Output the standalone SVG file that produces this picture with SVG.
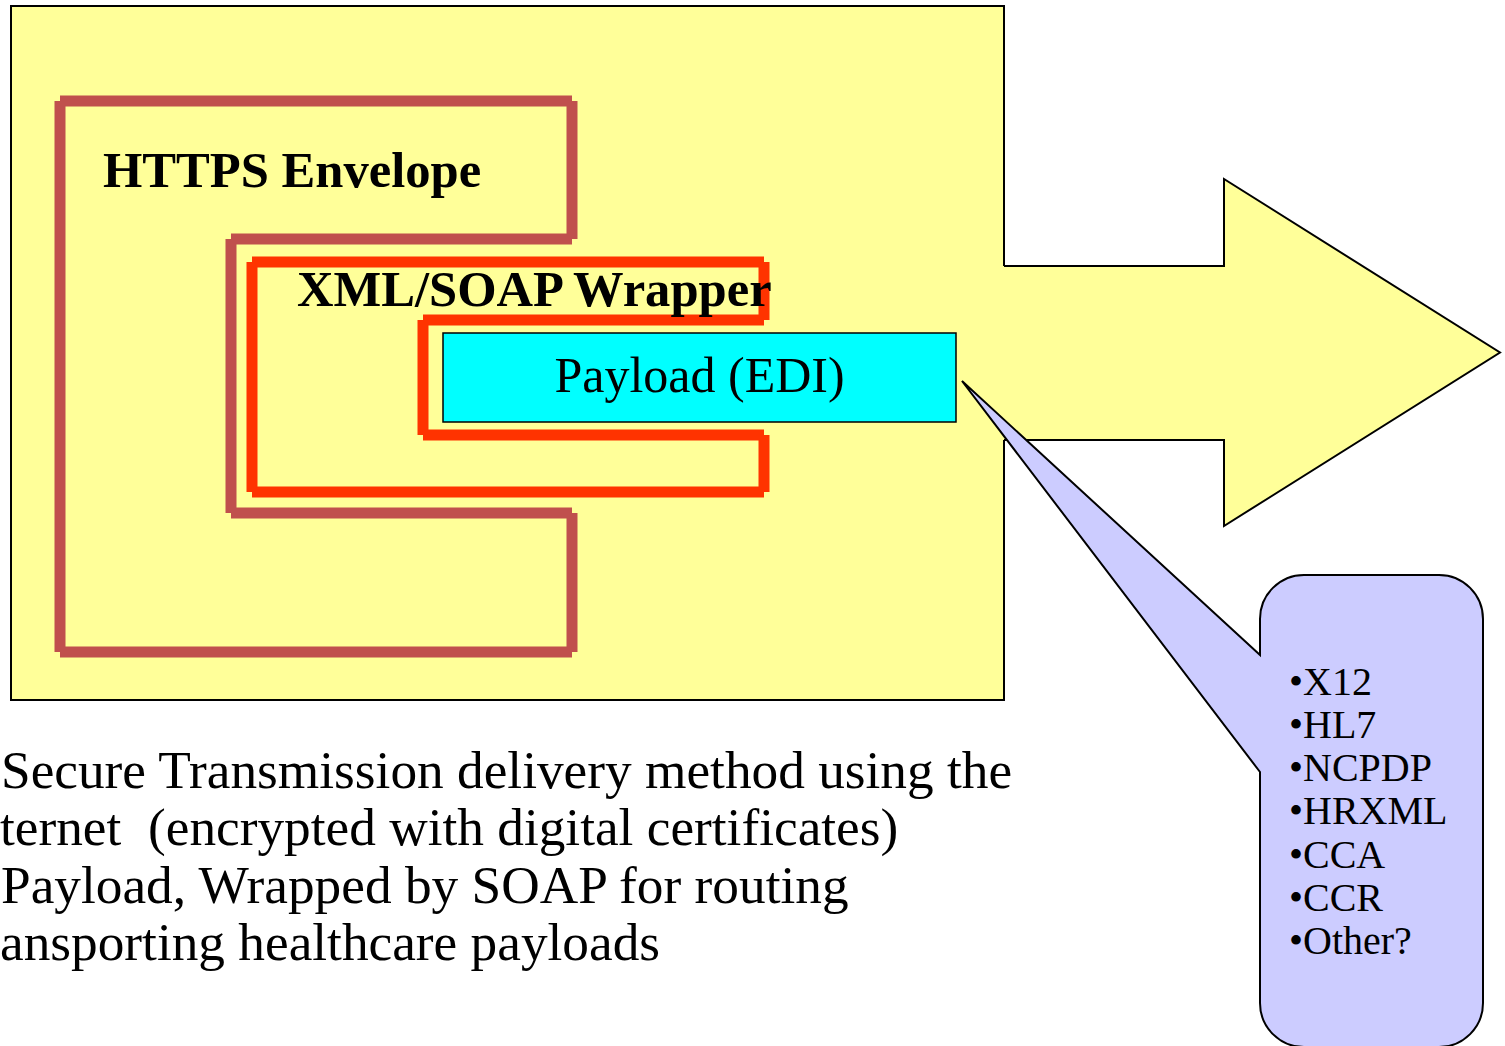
<svg xmlns="http://www.w3.org/2000/svg" width="1505" height="1046" viewBox="0 0 1505 1046">
<style>
.serif{font-family:"Liberation Serif","Times New Roman",serif;fill:#000}
.bold{font-weight:bold;font-size:50.6px}
.body{font-size:53.3px}
.bul{font-size:40px}
.env{fill:none;stroke:#C0504D;stroke-width:11;stroke-linecap:butt}
.wrap{fill:none;stroke:#FF3300;stroke-width:11;stroke-linecap:butt}
</style>
<rect width="1505" height="1046" fill="#FFFFFF"/>
<g id="container">
<rect x="11" y="6" width="993" height="694" fill="#FFFF99" stroke="#000" stroke-width="2"/>
</g>
<g id="arrow">
<polygon points="1000,266 1224,266 1224,179 1500,352.5 1224,526 1224,440 1000,440" fill="#FFFF99"/>
<polyline points="1004,266 1224,266 1224,179 1500,352.5 1224,526 1224,440 1004,440" fill="none" stroke="#000" stroke-width="2"/>
</g>
<g id="https-envelope">
<path class="env" d="M60,101H572 M572,101V239 M572,239H231 M231,239V513 M231,513H572 M572,513V652 M572,652H60 M60,652V101"/>
<text class="serif bold" x="103" y="187">HTTPS Envelope</text>
</g>
<g id="xml-soap-wrapper">
<path class="wrap" d="M252,262H764 M764,262V320 M764,320H423 M423,320V435 M423,435H764 M764,435V492 M764,492H252 M252,492V262"/>
<text class="serif bold" x="297" y="306">XML/SOAP Wrapper</text>
</g>
<g id="payload">
<rect x="443" y="333" width="513" height="89" fill="#00FFFF" stroke="#000" stroke-width="1.5"/>
<text class="serif" x="699.5" y="392" font-size="50" text-anchor="middle">Payload (EDI)</text>
</g>
<g id="description">
<text class="serif body" x="1" y="788">Secure Transmission delivery method using the</text>
<text class="serif body" x="0" y="845" xml:space="preserve">ternet  (encrypted with digital certificates)</text>
<text class="serif body" x="1" y="903">Payload, Wrapped by SOAP for routing</text>
<text class="serif body" x="0" y="960">ansporting healthcare payloads</text>
</g>
<g id="callout">
<path d="M1260,655 L962,381 L1260,772 L1260,1003 A44,44 0 0 0 1304,1047 L1439,1047 A44,44 0 0 0 1483,1003 L1483,619 A44,44 0 0 0 1439,575 L1304,575 A44,44 0 0 0 1260,619 Z" fill="#CCCCFF" stroke="#000" stroke-width="2" stroke-linejoin="miter"/>
<text class="serif bul" x="1289" y="695">•X12</text>
<text class="serif bul" x="1289" y="738">•HL7</text>
<text class="serif bul" x="1289" y="781">•NCPDP</text>
<text class="serif bul" x="1289" y="824">•HRXML</text>
<text class="serif bul" x="1289" y="868">•CCA</text>
<text class="serif bul" x="1289" y="911">•CCR</text>
<text class="serif bul" x="1289" y="954">•Other?</text>
</g>
</svg>
